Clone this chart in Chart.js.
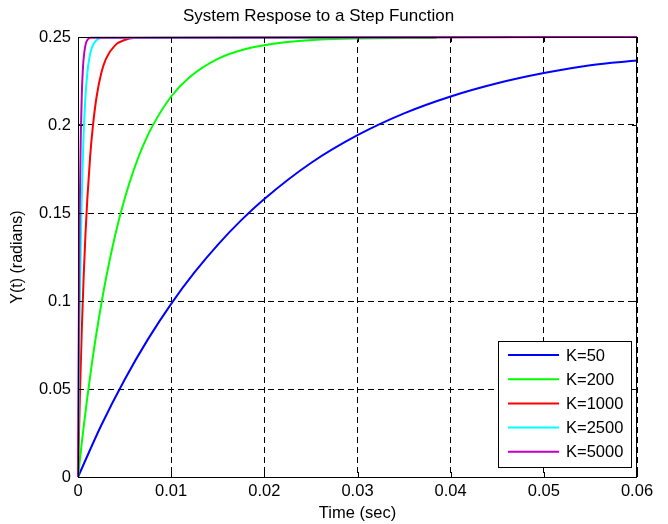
<!DOCTYPE html>
<html>
<head>
<meta charset="utf-8">
<script src="https://cdn.jsdelivr.net/npm/chart.js@4.4.1/dist/chart.umd.min.js"></script>
<style>
  html, body { margin: 0; padding: 0; background: #fff; }
</style>
</head>
<body>
<canvas id="grafico" width="668" height="524"></canvas>
<script>
// valores (tiempo en s, Y en radianes)
const etiquetas = ["K=50", "K=200", "K=1000", "K=2500", "K=5000"];
const colores = ["#0000ff", "#00ff00", "#ff0000", "#00ffff", "#bf00bf"];

const tK50 = [0, 0.0025, 0.005, 0.0075, 0.01, 0.0125, 0.015, 0.0175, 0.02, 0.025, 0.03, 0.035, 0.04, 0.045, 0.05, 0.055, 0.06];
const yK50 = [0, 0.0294, 0.0553, 0.0782, 0.0984, 0.1162, 0.1319, 0.1458, 0.1580, 0.1784, 0.1942, 0.2066, 0.2162, 0.2237, 0.2295, 0.2340, 0.2366];

const tK200 = [0, 0.0005, 0.001, 0.0015, 0.002, 0.003, 0.004, 0.005, 0.006, 0.007, 0.008, 0.01, 0.012, 0.015, 0.018, 0.022, 0.026, 0.03, 0.0385];
const yK200 = [0, 0.0238, 0.0453, 0.0648, 0.0824, 0.1128, 0.1377, 0.1580, 0.1747, 0.1884, 0.1995, 0.2162, 0.2273, 0.2376, 0.2432, 0.2469, 0.2486, 0.2492, 0.2495];

const tK1000 = [0, 0.0002, 0.0004, 0.0006, 0.0008, 0.001, 0.0013, 0.0016, 0.002, 0.0025, 0.003, 0.004, 0.005, 0.006, 0.06];
const yK1000 = [0, 0.0453, 0.0824, 0.1128, 0.1377, 0.1580, 0.1819, 0.1995, 0.2162, 0.2295, 0.2376, 0.2454, 0.2483, 0.2494, 0.25];

const tK2500 = [0, 0.0001, 0.0002, 0.0003, 0.0004, 0.0006, 0.0008, 0.001, 0.0012, 0.0015, 0.002, 0.0025, 0.06];
const yK2500 = [0, 0.0553, 0.0984, 0.1319, 0.1580, 0.1942, 0.2162, 0.2295, 0.2376, 0.2441, 0.2483, 0.2495, 0.25];

const tK5000 = [0, 0.00005, 0.0001, 0.00015, 0.0002, 0.0003, 0.0004, 0.0005, 0.0006, 0.0008, 0.001, 0.0013, 0.06];
const yK5000 = [0, 0.0553, 0.0984, 0.1319, 0.1580, 0.1942, 0.2162, 0.2295, 0.2376, 0.2454, 0.2483, 0.2496, 0.25];

const tiempos = [tK50, tK200, tK1000, tK2500, tK5000];
const salidas = [yK50, yK200, yK1000, yK2500, yK5000];

const fuente = "'Liberation Sans', Arial, sans-serif";

// marco, ticks hacia adentro y leyenda dentro del area
const marco = {
  id: "marco",
  afterDatasetsDraw(chart) {
    const { ctx, chartArea: a, scales: { x, y } } = chart;
    ctx.save();
    ctx.strokeStyle = "#000";
    ctx.lineWidth = 1;
    ctx.strokeRect(a.left + 0.5, a.top + 0.5, a.right - a.left - 1, a.bottom - a.top);

    ctx.beginPath();
    x.ticks.forEach(t => {
      const px = Math.round(x.getPixelForValue(t.value)) + 0.5;
      ctx.moveTo(px, a.bottom); ctx.lineTo(px, a.bottom - 5);
      ctx.moveTo(px, a.top); ctx.lineTo(px, a.top + 5);
    });
    y.ticks.forEach(t => {
      const py = Math.round(y.getPixelForValue(t.value)) + 0.5;
      ctx.moveTo(a.left, py); ctx.lineTo(a.left + 5, py);
      ctx.moveTo(a.right, py); ctx.lineTo(a.right - 5, py);
    });
    ctx.stroke();

    // leyenda
    const w = 133, h = 126;
    const lx = a.right - 6 - w, ly = a.bottom - 10 - h;
    ctx.fillStyle = "#fff";
    ctx.fillRect(lx, ly, w, h);
    ctx.strokeRect(lx + 0.5, ly + 0.5, w, h);
    ctx.font = "16.5px " + fuente;
    ctx.textBaseline = "middle";
    ctx.lineWidth = 2;
    chart.data.datasets.forEach((ds, i) => {
      const cy = ly + 14 + i * 24.2;
      ctx.strokeStyle = ds.borderColor;
      ctx.beginPath();
      ctx.moveTo(lx + 10, cy); ctx.lineTo(lx + 61, cy);
      ctx.stroke();
      ctx.fillStyle = "#000";
      ctx.fillText(ds.label, lx + 68, cy + 1);
    });
    ctx.restore();
  }
};

const ctx = document.getElementById("grafico").getContext("2d");
new Chart(ctx, {
  type: "line",
  data: {
    datasets: etiquetas.map((lab, i) => ({
      label: lab,
      data: tiempos[i].map((t, j) => ({ x: t, y: salidas[i][j] })),
      borderColor: colores[i],
      borderWidth: 2,
      pointRadius: 0,
      cubicInterpolationMode: "monotone",
      fill: false,
      clip: false,
      order: etiquetas.length - 1 - i
    }))
  },
  options: {
    responsive: false,
    animation: false,
    layout: { padding: { left: 0, right: 31, top: 0, bottom: 0 } },
    plugins: {
      legend: { display: false },
      tooltip: { enabled: false },
      title: {
        display: true,
        text: "System Respose to a Step Function",
        color: "#000",
        font: { family: fuente, size: 17, weight: "normal" },
        padding: { top: 6, bottom: 10.6 }
      }
    },
    scales: {
      x: {
        type: "linear",
        min: 0,
        max: 0.06,
        ticks: {
          stepSize: 0.01,
          color: "#000",
          padding: 5,
          maxRotation: 0,
          font: { family: fuente, size: 16.5 },
          callback: v => +v.toFixed(3)
        },
        grid: { color: "#000", drawTicks: false },
        border: { display: false, dash: [6, 4] },
        title: {
          display: true,
          text: "Time (sec)",
          color: "#000",
          font: { family: fuente, size: 16.5 },
          padding: { top: 1, bottom: 1 }
        },
        afterFit: s => { s.height = 47; }
      },
      y: {
        type: "linear",
        min: 0,
        max: 0.25,
        ticks: {
          stepSize: 0.05,
          color: "#000",
          padding: 7,
          font: { family: fuente, size: 16.5 },
          callback: v => +v.toFixed(3)
        },
        grid: { color: "#000", drawTicks: false },
        border: { display: false, dash: [6, 4] },
        title: {
          display: true,
          text: "Y(t) (radians)",
          color: "#000",
          font: { family: fuente, size: 16 },
          padding: { top: 8.4, bottom: 8.4 }
        },
        afterFit: s => { s.width = 78; }
      }
    }
  },
  plugins: [marco]
});
</script>
</body>
</html>
